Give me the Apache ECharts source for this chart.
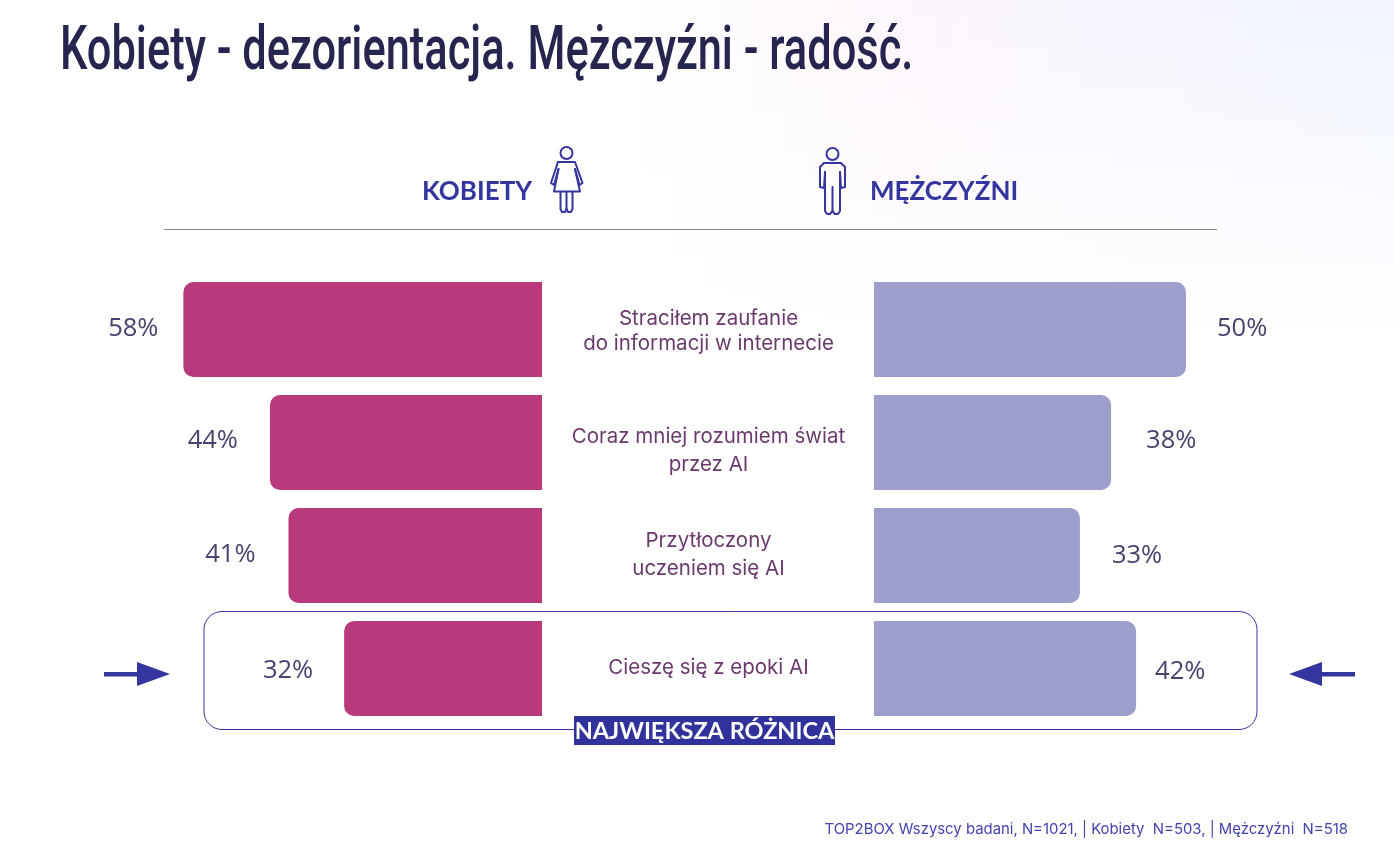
<!DOCTYPE html>
<html><head><meta charset="utf-8">
<style>html,body{margin:0;padding:0;background:#fff}#c{width:1394px;height:849px}</style>
<script src="https://cdn.jsdelivr.net/npm/echarts@6/dist/echarts.min.js"></script>
</head><body><div id="c"></div>
<script>
const titleText = 'Kobiety - dezorientacja. Mężczyźni - radość.';
const categories = ['Straciłem zaufanie\ndo informacji w internecie','Coraz mniej rozumiem świat\nprzez AI','Przytłoczony\nuczeniem się AI','Cieszę się z epoki AI'];
const women = [58,44,41,32];
const men = [50,38,33,42];
const headLeft = 'KOBIETY';
const headRight = 'MĘŻCZYŹNI';
const badge = 'NAJWIĘKSZA RÓŻNICA';
const footer = 'TOP2BOX Wszyscy badani, N=1021, | Kobiety  N=503, | Mężczyźni  N=518';

const BLUE='#3535a0', PINK='#b93a7b', LAV='#9e9ecd', VAL='#47426e', MID='#6a3a6c';
const leftNudge=[[-25,-1],[-32,-2],[-33,-1],[-31,2]];
const rightNudge=[[31,-1],[35,-2],[32,0],[19,3]];
const catFont={fontFamily:'Inter',fontSize:20.5,color:MID,align:'center'};
const line=(pts,w)=>({type:'polyline',shape:{points:pts},style:{stroke:BLUE,lineWidth:w||2,fill:null,lineJoin:'round',lineCap:'round'}});
const head=(x,y)=>({type:'circle',shape:{cx:x,cy:y,r:6},style:{stroke:BLUE,lineWidth:2,fill:'#fff'}});
const poly=(pts)=>({type:'polygon',shape:{points:pts},style:{fill:BLUE}});
const txt=(x,y,t,font,fill,align)=>({type:'text',x,y,style:{text:t,font,fill,align:align||'left',verticalAlign:'middle'}});

const chart=echarts.init(document.getElementById('c'),null,{renderer:'canvas'});
chart.setOption({
  animation:false,
  backgroundColor:'#fff',
  grid:[
    {left:171,top:273,width:371,height:452},
    {left:874,top:273,width:374.4,height:452}
  ],
  xAxis:[
    {gridIndex:0,type:'value',min:0,max:60,inverse:true,show:false},
    {gridIndex:1,type:'value',min:0,max:60,show:false}
  ],
  yAxis:[
    {gridIndex:0,type:'category',inverse:true,position:'right',data:categories,
     axisLine:{show:false},axisTick:{show:false},
     axisLabel:{show:true,interval:0,margin:166.5,align:'center',
       formatter:(v,i)=>v.split('\n').map((l,j)=>'{'+(j===0?'t':'b')+i+'|'+l+'}').join('\n'),
       rich:{
         t0:{...catFont,lineHeight:29,padding:[4,0,0,0]},b0:{...catFont,lineHeight:25},
         t1:{...catFont,lineHeight:44,padding:[16,0,0,0]},b1:{...catFont,lineHeight:28},
         t2:{...catFont,lineHeight:26,padding:[0,0,2,0]},b2:{...catFont,lineHeight:28},
         t3:{...catFont,lineHeight:30,padding:[0,0,2,0]},b3:{...catFont,lineHeight:28}
       }}},
    {gridIndex:1,type:'category',inverse:true,data:categories,axisLine:{show:false},axisTick:{show:false},axisLabel:{show:false}}
  ],
  series:[
    {name:'Kobiety',type:'bar',xAxisIndex:0,yAxisIndex:0,barWidth:95,
     itemStyle:{color:PINK,borderRadius:[10,0,0,10]},
     data:women.map((v,i)=>({value:v,label:{offset:leftNudge[i]}})),
     label:{show:true,position:'left',distance:0,formatter:'{c}%',fontFamily:'Open Sans',fontSize:25.5,color:VAL}},
    {name:'Mężczyźni',type:'bar',xAxisIndex:1,yAxisIndex:1,barWidth:95,
     itemStyle:{color:LAV,borderRadius:[0,10,10,0]},
     data:men.map((v,i)=>({value:v,label:{offset:rightNudge[i]}})),
     label:{show:true,position:'right',distance:0,formatter:'{c}%',fontFamily:'Open Sans',fontSize:25.5,color:VAL}}
  ],
  graphic:{elements:[
    {type:'rect',z:-10,silent:true,shape:{x:0,y:0,width:1394,height:849},style:{fill:new echarts.graphic.LinearGradient(0,0,1,0,[{offset:0,color:'#ffffff'},{offset:0.45,color:'#ffffff'},{offset:0.66,color:'#fdf5fc'},{offset:0.8,color:'#f6f5fe'},{offset:1,color:'#eff4fe'}])}},
    {type:'rect',z:-9,silent:true,shape:{x:0,y:0,width:1394,height:849},style:{fill:new echarts.graphic.LinearGradient(0,0,0,1,[{offset:0,color:'rgba(255,255,255,0)'},{offset:0.4,color:'rgba(255,255,255,1)'},{offset:1,color:'rgba(255,255,255,1)'}])}},
    {type:'text',x:60,y:53,scaleX:0.70,style:{text:titleText,font:'500 62px Roboto',fill:'#25254f',align:'left',verticalAlign:'middle'}},
    {type:'line',shape:{x1:164,y1:229.5,x2:1217,y2:229.5},style:{stroke:'#8b8b8b',lineWidth:1}},
    txt(422,192,headLeft,'bold 26px Lato',BLUE),
    txt(870,192,headRight,'bold 26px Lato',BLUE),
    head(566.5,153),
    line([[558,162],[575,162],[582.5,183],[579.5,185],[575,169]]),
    line([[558,162],[551,183],[554,185],[558.5,169]]),
    line([[558.5,169],[554,191.5],[580,191.5],[575,169]]),
    line([[560.5,192],[560.5,209],[562,212],[565,212],[566.5,209],[566.5,192]]),
    line([[566.5,209],[568,212],[571,212],[572.5,209],[572.5,192]]),
    head(832.5,154),
    line([[824,163],[841,163],[845,167],[845,187],[841,188],[840,172]]),
    line([[824,163],[820,167],[820,187],[824,188],[825,172]]),
    line([[825,172],[825,211],[827,214],[830,214],[832.5,211],[832.5,187]]),
    line([[840,172],[840,211],[838,214],[835,214],[832.5,211]]),
    {type:'rect',shape:{x:204,y:611.5,width:1053,height:118,r:18},style:{fill:null,stroke:BLUE,lineWidth:1}},
    {type:'rect',shape:{x:574,y:716,width:261,height:29},style:{fill:'#32329c'}},
    txt(704.5,731,badge,'bold 23.5px Lato','#ffffff','center'),
    poly([[104,672],[137,672],[137,662],[170,674],[137,686],[137,676.5],[104,676.5]]),
    poly([[1355,672],[1322,672],[1322,662],[1289,674],[1322,686],[1322,676.5],[1355,676.5]]),
    txt(1348,829.5,footer,'14.9px Inter','#4343b0','right')
  ]}
});
</script></body></html>
